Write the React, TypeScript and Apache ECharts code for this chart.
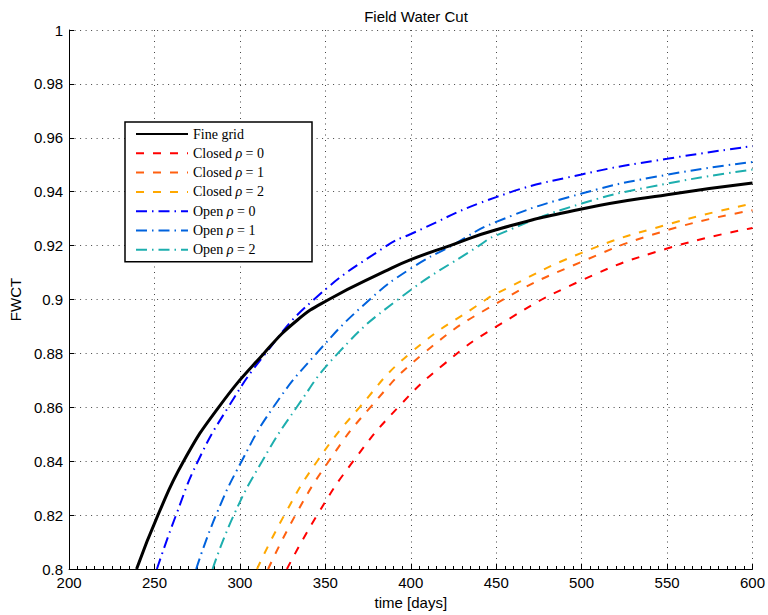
import React, { useEffect, useRef } from "react";
import * as echarts from "echarts";

const seriesNames = [
  "Fine grid",
  "Closed ρ = 0",
  "Closed ρ = 1",
  "Closed ρ = 2",
  "Open ρ = 0",
  "Open ρ = 1",
  "Open ρ = 2",
];

const fineX = [239.5, 252, 267, 287.5, 314, 333.5, 352, 385, 400, 423, 450, 500, 550, 600];
const fineY = [0.8, 0.82, 0.84, 0.86, 0.88, 0.8923, 0.9, 0.9105, 0.9148, 0.92, 0.9259, 0.9336, 0.9389, 0.9432];

const closed0X = [327.5, 345.2, 366.3, 392.6, 420, 450, 500, 550, 600];
const closed0Y = [0.8, 0.82, 0.84, 0.86, 0.8763, 0.8899, 0.9071, 0.9189, 0.9265];

const closed1X = [316.5, 332.5, 352, 376.3, 407.5, 450, 500, 550, 600];
const closed1Y = [0.8, 0.82, 0.84, 0.86, 0.88, 0.8985, 0.914, 0.9257, 0.9331];

const closed2X = [310, 326, 345.2, 370, 399.5, 444, 450, 500, 550, 600];
const closed2Y = [0.8, 0.82, 0.84, 0.86, 0.88, 0.9, 0.9022, 0.9173, 0.9278, 0.9356];

const open0X = [251.4, 262.6, 275.4, 293.1, 315, 343.3, 386, 400, 450, 500, 550, 600];
const open0Y = [0.8, 0.82, 0.84, 0.86, 0.88, 0.9, 0.92, 0.9243, 0.938, 0.9464, 0.9522, 0.9569];

const open1X = [274.4, 286, 301, 319.5, 344.8, 376, 400, 424, 450, 500, 550, 600];
const open1Y = [0.8, 0.82, 0.84, 0.86, 0.88, 0.9, 0.9115, 0.92, 0.9288, 0.9393, 0.9463, 0.951];

const open2X = [284, 296.4, 313, 333.2, 357.3, 392.5, 440, 450, 500, 550, 600];
const open2Y = [0.8, 0.82, 0.84, 0.86, 0.88, 0.9, 0.92, 0.9238, 0.9356, 0.943, 0.9482];

const xTicks = [200, 250, 300, 350, 400, 450, 500, 550, 600];
const yTicks = [0.8, 0.82, 0.84, 0.86, 0.88, 0.9, 0.92, 0.94, 0.96, 0.98, 1];

const zip = (xs: number[], ys: number[]) => xs.map((x, i) => [x, ys[i]]);

export default function App() {
  const ref = useRef<HTMLDivElement>(null);

  useEffect(() => {
    if (!ref.current) return;
    const chart = echarts.init(ref.current, undefined, { renderer: "svg" });
    const dash = [8, 9];
    const dashDot = [11, 5, 1.5, 5];
    const sans = "Liberation Sans, Arial, sans-serif";
    const serif = "Liberation Serif, Times New Roman, serif";

    const mk = (name: string, data: number[][], color: string, width: number, type: any) => ({
      name,
      type: "line",
      data,
      showSymbol: false,
      symbol: "none",
      smooth: 0.5,
      lineStyle: { color, width, type },
      itemStyle: { color },
      z: name === "Fine grid" ? 3 : 2,
    });

    chart.setOption({
      animation: false,
      backgroundColor: "#fff",
      title: {
        text: "Field Water Cut",
        left: 411,
        textAlign: "center",
        top: 4,
        textStyle: { fontFamily: sans, fontSize: 15, fontWeight: "normal", color: "#000" },
      },
      grid: { left: 68, right: 15, top: 30, bottom: 46, containLabel: false },
      legend: {
        orient: "vertical",
        left: 125,
        top: 122,
        padding: [5, 48, 5, 10],
        itemWidth: 52,
        itemHeight: 14,
        itemGap: 5.3,
        borderColor: "#000",
        borderWidth: 1.5,
        backgroundColor: "#fff",
        data: seriesNames,
        itemStyle: { color: "rgba(0,0,0,0)", borderWidth: 0, opacity: 0 },
        formatter: (n: string) => n.replace("ρ", "{i|ρ}"),
        textStyle: {
          fontFamily: serif,
          fontSize: 14,
          color: "#000",
          rich: { i: { fontFamily: serif, fontSize: 14, fontStyle: "italic", color: "#000" } },
        },
      },
      xAxis: {
        type: "value",
        min: xTicks[0],
        max: xTicks[xTicks.length - 1],
        interval: 50,
        name: "time [days]",
        nameLocation: "middle",
        nameGap: 25,
        nameTextStyle: { fontFamily: sans, fontSize: 15, color: "#000" },
        axisLine: { show: true, onZero: false, lineStyle: { color: "#000", width: 1 } },
        axisTick: { show: true, inside: true, length: 5, lineStyle: { color: "#000" } },
        minorTick: { show: true, splitNumber: 10, length: 3, lineStyle: { color: "#000" } },
        axisLabel: { fontFamily: sans, fontSize: 15, color: "#000", margin: 6 },
        splitLine: { show: true, lineStyle: { color: "#444", width: 1, type: [1, 4.5] } },
      },
      yAxis: {
        type: "value",
        min: yTicks[0],
        max: yTicks[yTicks.length - 1],
        interval: 0.02,
        name: "FWCT",
        nameLocation: "middle",
        nameGap: 43,
        nameTextStyle: { fontFamily: sans, fontSize: 15, color: "#000" },
        axisLine: { show: true, onZero: false, lineStyle: { color: "#000", width: 1 } },
        axisTick: { show: true, inside: true, length: 5, lineStyle: { color: "#000" } },
        axisLabel: { fontFamily: sans, fontSize: 15, color: "#000", margin: 6 },
        splitLine: { show: true, lineStyle: { color: "#444", width: 1, type: [1, 4.5] } },
      },
      series: [
        mk(seriesNames[0], zip(fineX, fineY), "#000000", 3, "solid"),
        mk(seriesNames[1], zip(closed0X, closed0Y), "#FF0000", 2, dash),
        mk(seriesNames[2], zip(closed1X, closed1Y), "#FF6010", 2, dash),
        mk(seriesNames[3], zip(closed2X, closed2Y), "#FFA800", 2, dash),
        mk(seriesNames[4], zip(open0X, open0Y), "#0000FF", 2, dashDot),
        mk(seriesNames[5], zip(open1X, open1Y), "#0062DD", 2, dashDot),
        mk(seriesNames[6], zip(open2X, open2Y), "#1DAEAE", 2, dashDot),
      ],
    });
    return () => chart.dispose();
  }, []);

  return (
    <div
      ref={ref}
      style={{ position: "fixed", left: 0, top: 0, width: 768, height: 615, background: "#fff" }}
    />
  );
}
